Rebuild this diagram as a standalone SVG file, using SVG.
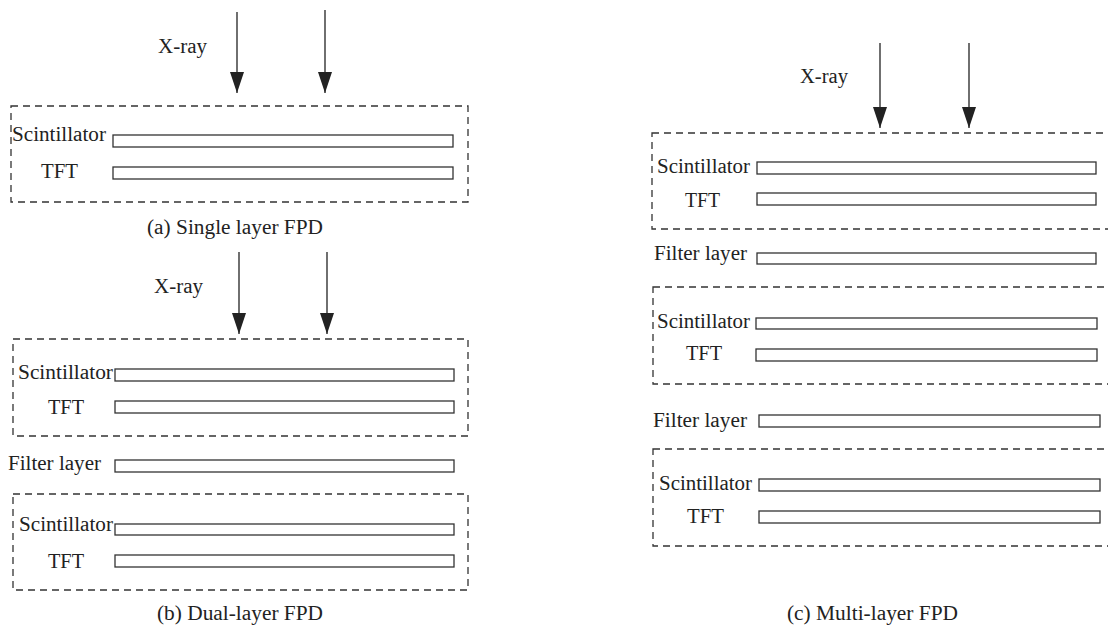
<svg xmlns="http://www.w3.org/2000/svg" width="1108" height="629" viewBox="0 0 1108 629">
<style>
text{font-family:"Liberation Serif","Times New Roman",serif;font-size:20px;fill:#222}
.box{fill:none;stroke:#333;stroke-width:1.3;stroke-dasharray:7 5}
.layer{fill:#fff;stroke:#333;stroke-width:1.3}
.arr{stroke:#222;stroke-width:1.3;fill:none;marker-end:url(#ah)}
</style>
<defs>
<marker id="ah" markerUnits="userSpaceOnUse" markerWidth="21" markerHeight="14" refX="21" refY="7" orient="auto" viewBox="0 0 21 14">
<path d="M0,0 L21,7 L0,14 z" fill="#222"/>
</marker>
</defs>
<rect width="1108" height="629" fill="#fff"/>
<g id="connectors">
<line class="arr" x1="237" y1="12" x2="237" y2="93"/>
<line class="arr" x1="325" y1="10" x2="325" y2="93"/>
<line class="arr" x1="239" y1="252" x2="239" y2="334"/>
<line class="arr" x1="327" y1="252" x2="327" y2="334"/>
<line class="arr" x1="880" y1="43" x2="880" y2="128"/>
<line class="arr" x1="969" y1="43" x2="969" y2="128"/>
</g>
<g id="panel-a">
<text x="158" y="53" textLength="49" lengthAdjust="spacingAndGlyphs">X-ray</text>
<g id="a-detector">
<rect class="box" x="11" y="106" width="457" height="96"/>
<text x="12" y="141" textLength="94" lengthAdjust="spacingAndGlyphs">Scintillator</text>
<rect class="layer" x="113" y="135" width="340" height="12"/>
<text x="41" y="178" textLength="37" lengthAdjust="spacingAndGlyphs">TFT</text>
<rect class="layer" x="113" y="167" width="340" height="12"/>
</g>
<text x="147" y="234" textLength="176" lengthAdjust="spacingAndGlyphs">(a) Single layer FPD</text>
</g>
<g id="panel-b">
<text x="154" y="293" textLength="49" lengthAdjust="spacingAndGlyphs">X-ray</text>
<g id="b-detector1">
<rect class="box" x="13" y="339" width="455" height="97"/>
<text x="18" y="379" textLength="95" lengthAdjust="spacingAndGlyphs">Scintillator</text>
<rect class="layer" x="115" y="369" width="339" height="12"/>
<text x="48" y="414" textLength="36" lengthAdjust="spacingAndGlyphs">TFT</text>
<rect class="layer" x="115" y="401" width="339" height="12"/>
</g>
<g id="b-filter">
<text x="8" y="470" textLength="93" lengthAdjust="spacingAndGlyphs">Filter layer</text>
<rect class="layer" x="115" y="460" width="339" height="12"/>
</g>
<g id="b-detector2">
<rect class="box" x="13" y="494" width="455" height="96"/>
<text x="19" y="531" textLength="94" lengthAdjust="spacingAndGlyphs">Scintillator</text>
<rect class="layer" x="115" y="524" width="339" height="11"/>
<text x="48" y="568" textLength="36" lengthAdjust="spacingAndGlyphs">TFT</text>
<rect class="layer" x="115" y="555" width="339" height="12"/>
</g>
<text x="157" y="620" textLength="166" lengthAdjust="spacingAndGlyphs">(b) Dual-layer FPD</text>
</g>
<g id="panel-c">
<text x="800" y="83" textLength="48" lengthAdjust="spacingAndGlyphs">X-ray</text>
<g id="c-detector1">
<rect class="box" x="652" y="133" width="470" height="96"/>
<text x="657" y="173" textLength="93" lengthAdjust="spacingAndGlyphs">Scintillator</text>
<rect class="layer" x="757" y="162" width="339" height="12"/>
<text x="685" y="207" textLength="35" lengthAdjust="spacingAndGlyphs">TFT</text>
<rect class="layer" x="757" y="193" width="339" height="12"/>
</g>
<g id="c-filter1">
<text x="654" y="260" textLength="93" lengthAdjust="spacingAndGlyphs">Filter layer</text>
<rect class="layer" x="757" y="253" width="339" height="11"/>
</g>
<g id="c-detector2">
<rect class="box" x="653" y="287" width="470" height="97"/>
<text x="657" y="328" textLength="93" lengthAdjust="spacingAndGlyphs">Scintillator</text>
<rect class="layer" x="756" y="318" width="341" height="11"/>
<text x="686" y="360" textLength="36" lengthAdjust="spacingAndGlyphs">TFT</text>
<rect class="layer" x="756" y="349" width="341" height="12"/>
</g>
<g id="c-filter2">
<text x="653" y="427" textLength="94" lengthAdjust="spacingAndGlyphs">Filter layer</text>
<rect class="layer" x="759" y="415" width="341" height="12"/>
</g>
<g id="c-detector3">
<rect class="box" x="653" y="449" width="470" height="97"/>
<text x="659" y="490" textLength="93" lengthAdjust="spacingAndGlyphs">Scintillator</text>
<rect class="layer" x="759" y="479" width="341" height="12"/>
<text x="687" y="523" textLength="37" lengthAdjust="spacingAndGlyphs">TFT</text>
<rect class="layer" x="759" y="511" width="341" height="12"/>
</g>
<text x="787" y="620" textLength="171" lengthAdjust="spacingAndGlyphs">(c) Multi-layer FPD</text>
</g>
</svg>
